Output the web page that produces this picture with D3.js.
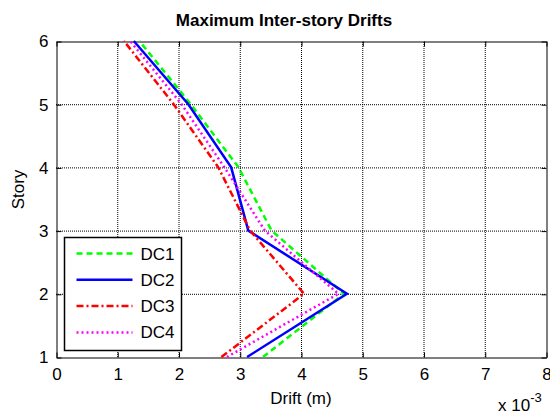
<!DOCTYPE html>
<html>
<head>
<meta charset="utf-8">
<script src="https://cdn.jsdelivr.net/npm/d3@7"></script>
<style>
  body { margin: 0; background: #fff; }
  text { font-family: Arial, "Liberation Sans", sans-serif; }
</style>
</head>
<body>
<div id="chart"></div>
<script>
// stories and drift values (x 10^-3 m)
const stories = [1, 2, 3, 4, 5, 6];
const dc1 = [3.38, 4.70, 3.52, 2.98, 2.20, 1.36];
const dc2 = [3.12, 4.75, 3.14, 2.86, 2.16, 1.27];
const dc3 = [2.70, 4.05, 3.17, 2.65, 1.92, 1.11];
const dc4 = [2.79, 4.61, 3.41, 2.75, 2.05, 1.21];
const seriesNames = ["DC1", "DC2", "DC3", "DC4"];
const xTicks = [0, 1, 2, 3, 4, 5, 6, 7, 8];
const yTicks = [1, 2, 3, 4, 5, 6];

const width = 550, height = 413;
const margin = { top: 41, right: 4, bottom: 56, left: 56 };

const series = [
  { name: "DC1", values: dc1, color: "#00ff00", dash: "6,4" },
  { name: "DC2", values: dc2, color: "#0000ff", dash: null },
  { name: "DC3", values: dc3, color: "#ff0000", dash: "7,3,2,3" },
  { name: "DC4", values: dc4, color: "#ff00ff", dash: "2,3" },
];

const svg = d3.select("#chart")
  .append("svg")
  .attr("width", width)
  .attr("height", height);

const x = d3.scaleLinear().domain([0, 8]).range([margin.left, width - margin.right]);
const y = d3.scaleLinear().domain([1, 6]).range([height - margin.bottom, margin.top]);

// grid
const grid = svg.append("g")
  .attr("stroke", "#000")
  .attr("stroke-width", 1)
  .attr("stroke-dasharray", "1,1");
grid.selectAll(".gx").data(xTicks.slice(1, -1)).join("line")
  .attr("x1", (d) => x(d) + 0.5).attr("x2", (d) => x(d) + 0.5)
  .attr("y1", y(1)).attr("y2", y(6));
grid.selectAll(".gy").data(yTicks.slice(1, -1)).join("line")
  .attr("y1", (d) => y(d) + 0.5).attr("y2", (d) => y(d) + 0.5)
  .attr("x1", x(0)).attr("x2", x(8));

// axes (ticks inward)
svg.append("g")
  .attr("transform", `translate(0.5,${y(1) + 0.5})`)
  .call(d3.axisBottom(x).tickValues(xTicks).tickFormat(d3.format("d"))
    .tickSizeInner(-5).tickSizeOuter(0).tickPadding(10));
svg.append("g")
  .attr("transform", `translate(${x(0) + 0.5},0.5)`)
  .call(d3.axisLeft(y).tickValues(yTicks).tickFormat(d3.format("d"))
    .tickSizeInner(-5).tickSizeOuter(0).tickPadding(8));
svg.append("g")
  .attr("transform", `translate(0.5,${y(6) + 0.5})`)
  .call(d3.axisTop(x).tickValues(xTicks).tickSizeInner(-5).tickSizeOuter(0).tickFormat(""));
svg.append("g")
  .attr("transform", `translate(${x(8) + 0.5},0.5)`)
  .call(d3.axisRight(y).tickValues(yTicks).tickSizeInner(-5).tickSizeOuter(0).tickFormat(""));

svg.selectAll(".domain").attr("stroke", "#000");
svg.selectAll(".tick line").attr("stroke", "#000");
svg.selectAll(".tick text")
  .attr("fill", "#000")
  .style("font-size", "17px")
  .style("font-family", "Arial, 'Liberation Sans', sans-serif");

// lines
const line = d3.line()
  .x((d) => x(d[0]))
  .y((d) => y(d[1]));

svg.append("g").selectAll("path")
  .data(series)
  .join("path")
  .attr("d", (s) => line(s.values.map((v, i) => [v, stories[i]])))
  .attr("fill", "none")
  .attr("stroke", (s) => s.color)
  .attr("stroke-width", 2.5)
  .attr("stroke-dasharray", (s) => s.dash);

// title & labels
svg.append("text")
  .attr("x", 284).attr("y", 26)
  .attr("text-anchor", "middle")
  .style("font-size", "17px").style("font-weight", "bold")
  .text("Maximum Inter-story Drifts");

svg.append("text")
  .attr("x", x(4)).attr("y", 404)
  .attr("text-anchor", "middle")
  .style("font-size", "17px")
  .text("Drift (m)");

svg.append("text")
  .attr("transform", `translate(24,${y(3.65)}) rotate(-90)`)
  .attr("text-anchor", "middle")
  .style("font-size", "17px")
  .text("Story");

const exp = svg.append("text")
  .attr("x", 498).attr("y", 411)
  .style("font-size", "17px");
exp.append("tspan").text("x 10");
exp.append("tspan").attr("dy", -9).style("font-size", "13px").text("-3");

// legend
const legend = svg.append("g").attr("transform", "translate(64.5,237.5)");
legend.append("rect")
  .attr("width", 117).attr("height", 113)
  .attr("fill", "#fff").attr("stroke", "#000").attr("stroke-width", 1.5);
const rows = legend.selectAll("g.row")
  .data(series)
  .join("g")
  .attr("transform", (d, i) => `translate(0,${16 + i * 26.3})`);
rows.append("line")
  .attr("x1", 12).attr("x2", 68)
  .attr("stroke", (d) => d.color)
  .attr("stroke-width", 2.5)
  .attr("stroke-dasharray", (d) => d.dash);
rows.append("text")
  .attr("x", 76).attr("y", 6)
  .style("font-size", "17px")
  .text((d, i) => seriesNames[i]);
</script>
</body>
</html>
